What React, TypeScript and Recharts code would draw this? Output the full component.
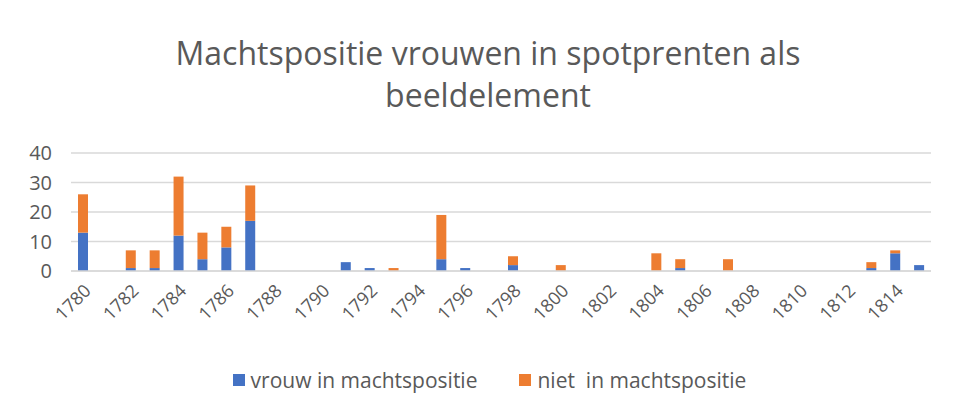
import { BarChart, Bar, XAxis, YAxis, CartesianGrid, Legend } from 'recharts';

const years = [
  1780, 1781, 1782, 1783, 1784, 1785, 1786, 1787, 1788, 1789, 1790, 1791,
  1792, 1793, 1794, 1795, 1796, 1797, 1798, 1799, 1800, 1801, 1802, 1803,
  1804, 1805, 1806, 1807, 1808, 1809, 1810, 1811, 1812, 1813, 1814, 1815,
];

const vrouw = [
  13, 0, 1, 1, 12, 4, 8, 17, 0, 0, 0, 3,
  1, 0, 0, 4, 1, 0, 2, 0, 0, 0, 0, 0,
  0, 1, 0, 0, 0, 0, 0, 0, 0, 1, 6, 2,
];

const niet = [
  13, 0, 6, 6, 20, 9, 7, 12, 0, 0, 0, 0,
  0, 1, 0, 15, 0, 0, 3, 0, 2, 0, 0, 0,
  6, 3, 0, 4, 0, 0, 0, 0, 0, 2, 1, 0,
];

const yTicks = [0, 10, 20, 30, 40];

const seriesNames = ['vrouw in machtspositie', 'niet\u00a0 in machtspositie'];

const data = years.map((y, i) => ({ year: String(y), vrouw: vrouw[i], niet: niet[i] }));

const font = '"Open Sans", sans-serif';

const renderLegend = (props: any) => {
  const items = [...(props.payload || [])].sort(
    (a: any, b: any) => seriesNames.indexOf(a.value) - seriesNames.indexOf(b.value)
  );
  return (
    <div style={{ display: 'flex', justifyContent: 'center', gap: 42, marginLeft: 40, fontSize: 21, color: '#595959', fontFamily: font }}>
      {items.map((it: any) => (
        <div key={it.value} style={{ display: 'flex', alignItems: 'center' }}>
          <span style={{ display: 'inline-block', width: 12, height: 12, background: it.color, marginRight: 6 }} />
          <span>{it.value}</span>
        </div>
      ))}
    </div>
  );
};

const App = () => {
  return (
    <div style={{ position: 'relative', width: 939, height: 396, fontFamily: font }}>
      <div
        style={{
          position: 'absolute',
          left: -2,
          top: -1,
          width: 960,
          height: 420,
          border: '1px solid #d9d9d9',
          boxSizing: 'border-box',
        }}
      />
      <div
        style={{
          position: 'absolute',
          left: 0,
          top: 24,
          width: 960,
          textAlign: 'center',
          fontSize: 32,
          lineHeight: '42px',
          color: '#595959',
        }}
      >
        Machtspositie vrouwen in spotprenten als
        <br />
        beeldelement
      </div>
      <BarChart
        width={939}
        height={396}
        data={data}
        margin={{ top: 145, right: 16, left: 0, bottom: 10 }}
        style={{ position: 'absolute', left: 0, top: 0 }}
      >
        <CartesianGrid vertical={false} stroke="#d9d9d9" strokeWidth={1.5} />
        <XAxis
          dataKey="year"
          interval={1}
          tickLine={false}
          axisLine={{ stroke: '#d9d9d9', strokeWidth: 1.5 }}
          height={95}
          tickMargin={6}
          angle={-45}
          textAnchor="end"
          tick={{ fill: '#595959', fontSize: 18, fontFamily: font }}
        />
        <YAxis
          domain={[0, 40]}
          ticks={yTicks}
          width={63}
          tickLine={false}
          axisLine={false}
          tickMargin={13}
          tick={{ fill: '#595959', fontSize: 20, fontFamily: font }}
        />
        <Legend verticalAlign="bottom" content={renderLegend} />
        <Bar dataKey="vrouw" name={seriesNames[0]} stackId="a" fill="#4472C4" barSize={10} isAnimationActive={false} />
        <Bar dataKey="niet" name={seriesNames[1]} stackId="a" fill="#ED7D31" barSize={10} isAnimationActive={false} />
      </BarChart>
    </div>
  );
};

export default App;
